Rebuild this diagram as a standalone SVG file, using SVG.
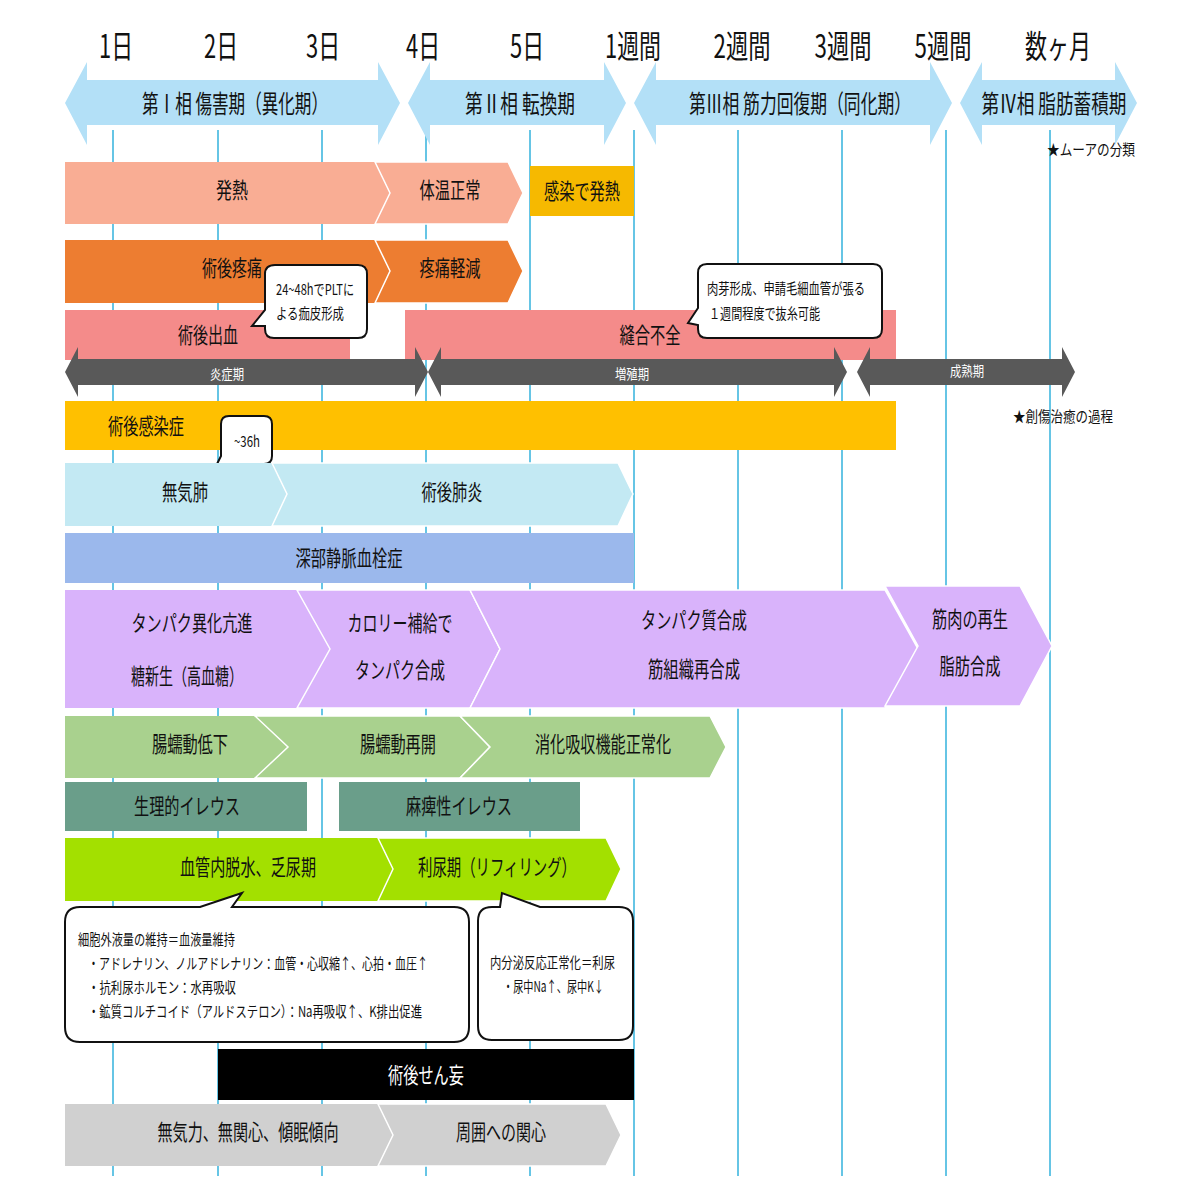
<svg xmlns="http://www.w3.org/2000/svg" width="1184" height="1184" viewBox="0 0 1184 1184">
<style>
text{font-family:"Noto Sans CJK JP","Liberation Sans",sans-serif;fill:#111;text-anchor:middle;dominant-baseline:central}
.hd{font-size:32px}
.ph{font-size:25px}
.l{font-size:22px}
.s{font-size:15px;text-anchor:start}
.w{fill:#fff;font-size:14px}
.vl{stroke:#33b2dc;stroke-width:1.5}
.cl{fill:#fff;stroke:#111;stroke-width:2}
.sep{stroke:#fff;stroke-width:1.5}
</style>
<rect width="1184" height="1184" fill="#fff"/>
<g id="grid">
<line class="vl" x1="113" y1="130" x2="113" y2="1176"/><line class="vl" x1="218" y1="130" x2="218" y2="1176"/><line class="vl" x1="322" y1="130" x2="322" y2="1176"/><line class="vl" x1="426" y1="130" x2="426" y2="1176"/><line class="vl" x1="530" y1="130" x2="530" y2="1176"/><line class="vl" x1="634" y1="130" x2="634" y2="1176"/><line class="vl" x1="738" y1="130" x2="738" y2="1176"/><line class="vl" x1="842" y1="130" x2="842" y2="1176"/><line class="vl" x1="946" y1="130" x2="946" y2="1176"/><line class="vl" x1="1050" y1="130" x2="1050" y2="1176"/>
</g>
<g id="axis">
<text class="hd" x="116" y="44" textLength="34" lengthAdjust="spacingAndGlyphs">1日</text><text class="hd" x="221" y="44" textLength="34" lengthAdjust="spacingAndGlyphs">2日</text><text class="hd" x="323" y="44" textLength="34" lengthAdjust="spacingAndGlyphs">3日</text><text class="hd" x="423" y="44" textLength="34" lengthAdjust="spacingAndGlyphs">4日</text><text class="hd" x="527" y="44" textLength="34" lengthAdjust="spacingAndGlyphs">5日</text><text class="hd" x="633" y="44" textLength="56" lengthAdjust="spacingAndGlyphs">1週間</text><text class="hd" x="742" y="44" textLength="57" lengthAdjust="spacingAndGlyphs">2週間</text><text class="hd" x="843" y="44" textLength="57" lengthAdjust="spacingAndGlyphs">3週間</text><text class="hd" x="943" y="44" textLength="57" lengthAdjust="spacingAndGlyphs">5週間</text><text class="hd" x="1058" y="44" textLength="66" lengthAdjust="spacingAndGlyphs">数ヶ月</text>
</g>
<g id="phases" fill="#b3e0f7">
<polygon points="65,103 87,62 87,80 378,80 378,62 400,103 378,145 378,125 87,125 87,145"/>
<polygon points="408,103 430,62 430,80 604,80 604,62 626,103 604,145 604,125 430,125 430,145"/>
<polygon points="634,103 656,62 656,80 930,80 930,62 952,103 930,145 930,125 656,125 656,145"/>
<polygon points="960,103 982,62 982,80 1115,80 1115,62 1137,103 1115,145 1115,125 982,125 982,145"/>
<text class="ph" x="235" y="102" textLength="186" lengthAdjust="spacingAndGlyphs">第Ⅰ相 傷害期（異化期）</text>
<text class="ph" x="520" y="102" textLength="110" lengthAdjust="spacingAndGlyphs">第Ⅱ相 転換期</text>
<text class="ph" x="800" y="102" textLength="222" lengthAdjust="spacingAndGlyphs">第Ⅲ相 筋力回復期（同化期）</text>
<text class="ph" x="1054" y="102" textLength="145" lengthAdjust="spacingAndGlyphs">第Ⅳ相 脂肪蓄積期</text>
<text class="s" x="1047" y="148" textLength="88" lengthAdjust="spacingAndGlyphs">★ムーアの分類</text>
</g>
<g id="fever">
<polygon fill="#f9ad94" points="65,162 375,162 390,193 375,224 65,224"/>
<polygon fill="#f9ad94" class="sep" points="375,162 508,162 523,193 508,224 375,224 390,193"/>
<text class="l" x="232" y="188" textLength="32" lengthAdjust="spacingAndGlyphs">発熱</text><text class="l" x="450" y="188" textLength="61" lengthAdjust="spacingAndGlyphs">体温正常</text>
<rect x="530" y="166" width="104" height="50" fill="#f6b900"/><text class="l" x="582" y="189" textLength="76" lengthAdjust="spacingAndGlyphs">感染で発熱</text>
</g>
<g id="pain">
<polygon fill="#ed7d31" points="65,240 375,240 390,271 375,303 65,303"/>
<polygon fill="#ed7d31" class="sep" points="375,240 508,240 523,271 508,303 375,303 390,271"/>
<text class="l" x="232" y="266" textLength="60" lengthAdjust="spacingAndGlyphs">術後疼痛</text><text class="l" x="450" y="266" textLength="61" lengthAdjust="spacingAndGlyphs">疼痛軽減</text>
</g>
<g id="bleed">
<rect x="65" y="310" width="285" height="50" fill="#f48b8a"/>
<rect x="405" y="310" width="491" height="50" fill="#f48b8a"/>
<text class="l" x="208" y="333" textLength="60" lengthAdjust="spacingAndGlyphs">術後出血</text><text class="l" x="650" y="333" textLength="61" lengthAdjust="spacingAndGlyphs">縫合不全</text>
</g>
<g id="healing" fill="#595959">
<polygon points="65,372 78,347 78,359 415,359 415,347 428,372 415,397 415,385 78,385 78,397"/>
<polygon points="428,372 441,347 441,359 834,359 834,347 847,372 834,397 834,385 441,385 441,397"/>
<polygon points="857,372 870,347 870,359 1062,359 1062,347 1075,372 1062,397 1062,385 870,385 870,397"/>
<text class="w" x="227" y="373" textLength="34" lengthAdjust="spacingAndGlyphs">炎症期</text><text class="w" x="632" y="373" textLength="34" lengthAdjust="spacingAndGlyphs">増殖期</text><text class="w" x="967" y="370" textLength="34" lengthAdjust="spacingAndGlyphs">成熟期</text>
<text class="s" x="1013" y="415" textLength="100" lengthAdjust="spacingAndGlyphs">★創傷治癒の過程</text>
</g>
<g id="infection">
<rect x="65" y="401" width="831" height="49" fill="#ffc000"/>
<text class="l" x="146" y="424" textLength="76" lengthAdjust="spacingAndGlyphs">術後感染症</text>
</g>
<g id="callouts">
<path class="cl" d="M275,265 H358 Q367,265 367,274 V329 Q367,338 358,338 H274 Q265,338 265,329 V326 L252,326 L265,310 V274 Q265,265 275,265 Z"/>
<text class="s" x="276" y="288" textLength="78" lengthAdjust="spacingAndGlyphs">24~48hでPLTに</text><text class="s" x="276" y="312" textLength="68" lengthAdjust="spacingAndGlyphs">よる痂皮形成</text>
<path class="cl" d="M707,264 H873 Q882,264 882,273 V329 Q882,338 873,338 H707 Q698,338 698,329 V325 L688,323 L698,308 V273 Q698,264 707,264 Z"/>
<text class="s" x="707" y="287" textLength="158" lengthAdjust="spacingAndGlyphs">肉芽形成、申請毛細血管が張る</text><text class="s" x="709" y="312" textLength="111" lengthAdjust="spacingAndGlyphs">１週間程度で抜糸可能</text>
<path class="cl" d="M229,416 H264 Q272,416 272,424 V456 Q272,464 264,464 H229 L211,476 L221,456 V424 Q221,416 229,416 Z"/>
<text class="s" x="234" y="440" textLength="26" lengthAdjust="spacingAndGlyphs">~36h</text>
</g>
<g id="lung">
<polygon fill="#c3e9f3" points="65,463 272,463 287,494 272,526 65,526"/>
<polygon fill="#c3e9f3" class="sep" points="272,463 618,463 633,494 618,526 272,526 287,494"/>
<text class="l" x="185" y="490" textLength="46" lengthAdjust="spacingAndGlyphs">無気肺</text><text class="l" x="452" y="490" textLength="61" lengthAdjust="spacingAndGlyphs">術後肺炎</text>
</g>
<g id="dvt"><rect x="65" y="533" width="569" height="50" fill="#9bb8ec"/><text class="l" x="349" y="556" textLength="107" lengthAdjust="spacingAndGlyphs">深部静脈血栓症</text></g>
<g id="protein" fill="#d9b3fb">
<polygon points="65,590 297,590 330,649 297,708 65,708"/>
<polygon class="sep" points="297,590 470,590 500,649 470,708 297,708 330,649"/>
<polygon class="sep" points="470,590 885,590 918,649 885,708 470,708 500,649"/>
<polygon class="sep" points="885,586 1020,586 1052,646 1020,706 885,706 918,646"/>
<text class="l" x="192" y="621" textLength="121" lengthAdjust="spacingAndGlyphs">タンパク異化亢進</text><text class="l" x="187" y="674" textLength="112" lengthAdjust="spacingAndGlyphs">糖新生（高血糖）</text>
<text class="l" x="400" y="621" textLength="105" lengthAdjust="spacingAndGlyphs">カロリー補給で</text><text class="l" x="400" y="668" textLength="90" lengthAdjust="spacingAndGlyphs">タンパク合成</text>
<text class="l" x="694" y="618" textLength="106" lengthAdjust="spacingAndGlyphs">タンパク質合成</text><text class="l" x="694" y="667" textLength="92" lengthAdjust="spacingAndGlyphs">筋組織再合成</text>
<text class="l" x="970" y="617" textLength="76" lengthAdjust="spacingAndGlyphs">筋肉の再生</text><text class="l" x="970" y="664" textLength="61" lengthAdjust="spacingAndGlyphs">脂肪合成</text>
</g>
<g id="bowel" fill="#a9d18e">
<polygon points="65,716 255,716 288,747 255,778 65,778"/>
<polygon class="sep" points="255,716 460,716 490,747 460,778 255,778 288,747"/>
<polygon class="sep" points="460,716 710,716 726,747 710,778 460,778 490,747"/>
<text class="l" x="190" y="742" textLength="76" lengthAdjust="spacingAndGlyphs">腸蠕動低下</text><text class="l" x="398" y="742" textLength="76" lengthAdjust="spacingAndGlyphs">腸蠕動再開</text><text class="l" x="603" y="742" textLength="136" lengthAdjust="spacingAndGlyphs">消化吸収機能正常化</text>
</g>
<g id="ileus" fill="#6a9e8a">
<rect x="65" y="782" width="242" height="49"/><rect x="339" y="782" width="241" height="49"/>
<text class="l" x="187" y="804" textLength="106" lengthAdjust="spacingAndGlyphs">生理的イレウス</text><text class="l" x="459" y="804" textLength="106" lengthAdjust="spacingAndGlyphs">麻痺性イレウス</text>
</g>
<g id="fluid" fill="#a3e000">
<polygon points="65,838 378,838 393,869 378,901 65,901"/>
<polygon class="sep" points="378,838 606,838 621,869 606,901 378,901 393,869"/>
<text class="l" x="248" y="865" textLength="136" lengthAdjust="spacingAndGlyphs">血管内脱水、乏尿期</text><text class="l" x="497" y="865" textLength="158" lengthAdjust="spacingAndGlyphs">利尿期（リフィリング）</text>
</g>
<g id="fluidnotes">
<path class="cl" d="M80,907 H200 L242,893 L232,907 H454 Q469,907 469,922 V1027 Q469,1042 454,1042 H80 Q65,1042 65,1027 V922 Q65,907 80,907 Z"/>
<text class="s" x="78" y="938" textLength="157" lengthAdjust="spacingAndGlyphs">細胞外液量の維持＝血液量維持</text>
<text class="s" x="88" y="962" textLength="340" lengthAdjust="spacingAndGlyphs">・アドレナリン、ノルアドレナリン：血管・心収縮↑、心拍・血圧↑</text>
<text class="s" x="88" y="986" textLength="148" lengthAdjust="spacingAndGlyphs">・抗利尿ホルモン：水再吸収</text>
<text class="s" x="88" y="1010" textLength="334" lengthAdjust="spacingAndGlyphs">・鉱質コルチコイド（アルドステロン）：Na再吸収↑、K排出促進</text>
<path class="cl" d="M492,907 H500 L502,893 L540,907 H619 Q633,907 633,921 V1026 Q633,1040 619,1040 H492 Q478,1040 478,1026 V921 Q478,907 492,907 Z"/>
<text class="s" x="490" y="961" textLength="125" lengthAdjust="spacingAndGlyphs">内分泌反応正常化＝利尿</text>
<text class="s" x="503" y="985" textLength="101" lengthAdjust="spacingAndGlyphs">・尿中Na↑、尿中K↓</text>
</g>
<g id="delirium"><rect x="218" y="1049" width="416" height="51" fill="#000"/><text class="l" x="426" y="1073" style="fill:#fff" textLength="76" lengthAdjust="spacingAndGlyphs">術後せん妄</text></g>
<g id="mental" fill="#d0d0d0">
<polygon points="65,1104 378,1104 393,1135 378,1166 65,1166"/>
<polygon class="sep" points="378,1104 606,1104 621,1135 606,1166 378,1166 393,1135"/>
<text class="l" x="248" y="1130" textLength="181" lengthAdjust="spacingAndGlyphs">無気力、無関心、傾眠傾向</text><text class="l" x="501" y="1130" textLength="90" lengthAdjust="spacingAndGlyphs">周囲への関心</text>
</g>
</svg>
